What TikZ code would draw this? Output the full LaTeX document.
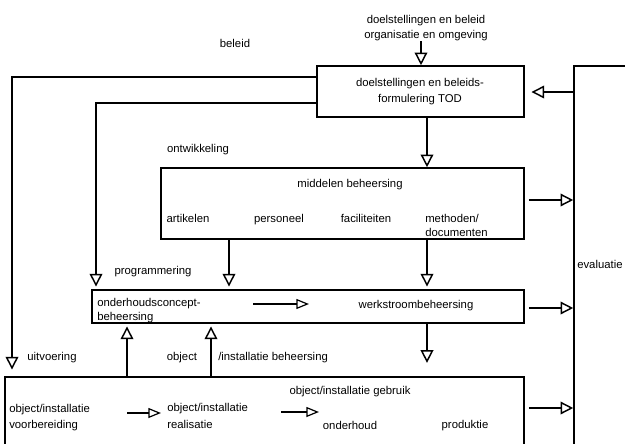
\documentclass[tikz,border=0pt]{standalone}
\usepackage{fontspec}
\setmainfont{Liberation Sans}
\usetikzlibrary{arrows.meta,fit}
\begin{document}
\begin{tikzpicture}[x=0.75pt,y=-0.75pt,
  box/.style={draw,line width=1.2pt,inner sep=0pt},
  lbl/.style={font=\fontsize{8.5}{11.5}\selectfont,inner sep=0pt},
  arr/.style={line width=1.1pt,-{Triangle[open,length=9.5pt,width=9.5pt,line width=1.1pt]}},
  arri/.style={line width=0.8pt,-{Triangle[open,length=9.5pt,width=7.5pt,line width=0.9pt]}}]
\clip (0,0) rectangle (625,443);
% boxes
\node[box,fit={(317,66)(524,117)}] (tod) {};
\node[box,fit={(161,168)(524,239)}] (mid) {};
\node[box,fit={(92,290)(524,323)}] (ond) {};
\node[box,fit={(5,377)(524,452)}] (bot) {};
\node[box,fit={(574,66)(634,454)}] (eva) {};
% texts
\node[lbl,align=center,anchor=base,font=\fontsize{8.5}{11}\selectfont] (inp) at (426,38) {doelstellingen en beleid\\organisatie en omgeving};
\node[lbl,anchor=base] (tbel) at (235,47) {beleid};
\node[lbl,align=center,anchor=base,font=\fontsize{8.5}{12}\selectfont] (ttod) at (420,102) {doelstellingen en beleids-\\formulering TOD};
\node[lbl,anchor=base] (tont) at (198,152) {ontwikkeling};
\node[lbl,anchor=base] (tmid) at (350,187) {middelen beheersing};
\node[lbl,anchor=base] (tart) at (188,222) {artikelen};
\node[lbl,anchor=base] (tper) at (279,222) {personeel};
\node[lbl,anchor=base] (tfac) at (366,222) {faciliteiten};
\node[lbl,align=left,anchor=base west,font=\fontsize{8.5}{10.5}\selectfont] (tmet) at (425,236) {methoden/\\documenten};
\node[lbl,anchor=base] (tprog) at (153,274) {programmering};
\node[lbl,align=left,anchor=base west,font=\fontsize{8.5}{9.8}\selectfont] (tohc) at (97,320) {onderhoudsconcept-\\beheersing};
\node[lbl,anchor=base] (twsb) at (416,308) {werkstroombeheersing};
\node[lbl,anchor=base] (tuit) at (52,360) {uitvoering};
\node[lbl,anchor=base] (tobj) at (182,360) {object};
\node[lbl,anchor=base west] (tinst) at (218,360) {/installatie beheersing};
\node[lbl,align=left,anchor=base west,font=\fontsize{8.5}{12}\selectfont] (tvoor) at (9,428) {object/installatie\\voorbereiding};
\node[lbl,align=left,anchor=base west,font=\fontsize{8.5}{12.5}\selectfont] (treal) at (167,428) {object/installatie\\realisatie};
\node[lbl,anchor=base] (tgeb) at (350,394) {object/installatie gebruik};
\node[lbl,anchor=base] (tond) at (350,429) {onderhoud};
\node[lbl,anchor=base] (tprod) at (465,428) {produktie};
\node[lbl,anchor=base west] (teva) at (577,268) {evaluatie};
% helper coordinates
\coordinate (cIn) at (421,41);
\coordinate (cE1) at (574,92);
\coordinate (cX1) at (427,0);
\coordinate (cX2) at (229,0);
\coordinate (cL1) at (12,77);
\coordinate (cL2) at (96,103);
\coordinate (cU1) at (127,0);
\coordinate (cU2) at (211,0);
\coordinate (cM) at (528,200);
\coordinate (cO) at (528,308);
\coordinate (cB) at (528,408);
\coordinate (a1) at (253,304);
\coordinate (a2) at (309,304);
\coordinate (b1) at (127,413);
\coordinate (b2) at (161,413);
\coordinate (b3) at (281,412);
\coordinate (b4) at (319,412);
% connectors
\draw[arr] (cIn) -- (cIn |- tod.north);
\draw[arr,shorten >=5pt] (eva.west |- cE1) -- (tod.east |- cE1);
\draw[arr] (cX1 |- tod.south) -- (cX1 |- mid.north);
\draw[arr,shorten >=2pt] (cX1 |- mid.south) -- (cX1 |- ond.north);
\draw[arr,shorten >=2pt] (cX2 |- mid.south) -- (cX2 |- ond.north);
\draw[arr,shorten >=10pt] (cX1 |- ond.south) -- (cX1 |- bot.north);
\draw[arr,shorten >=5pt] (tod.west |- cL1) -- (cL1) -- (cL1 |- bot.north);
\draw[arr,shorten >=2pt] (tod.west |- cL2) -- (cL2) -- (cL2 |- ond.north);
\draw[arr,shorten >=2pt] (cU1 |- bot.north) -- (cU1 |- ond.south);
\draw[arr,shorten >=2pt] (cU2 |- bot.north) -- (cU2 |- ond.south);
\draw[arr,shorten <=3pt] (mid.east |- cM) -- (eva.west |- cM);
\draw[arr,shorten <=3pt] (ond.east |- cO) -- (eva.west |- cO);
\draw[arr,shorten <=3pt] (bot.east |- cB) -- (eva.west |- cB);
\draw[arri] (a1) -- (a2);
\draw[arri] (b1) -- (b2);
\draw[arri] (b3) -- (b4);
\end{tikzpicture}
\end{document}
